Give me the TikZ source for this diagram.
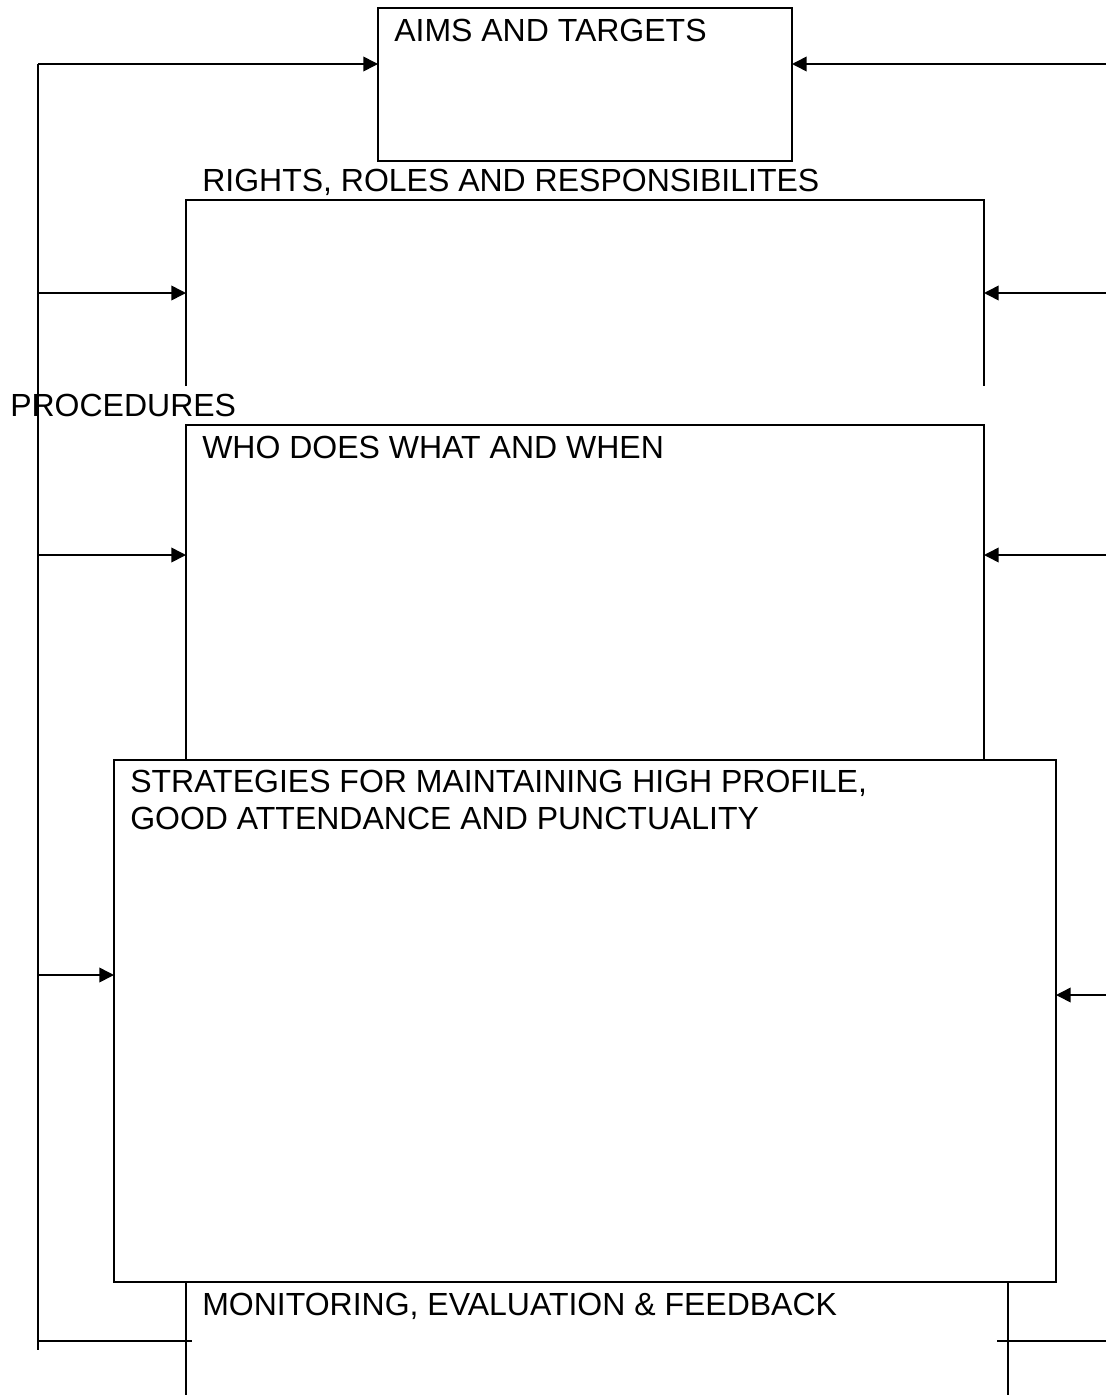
\documentclass[tikz,border=0pt]{standalone}
\usepackage{fontspec}
\setmainfont{Liberation Sans}
\usetikzlibrary{arrows.meta,fit}
\begin{document}
\begin{tikzpicture}[x=0.75pt,y=-0.75pt,
  boxline/.style={line width=1.5pt},
  conn/.style={line width=1.2pt},
  arr/.style={conn,-{Triangle[length=11pt,width=11pt]}},
  frame/.style={inner sep=0pt,outer sep=0pt},
  lbl/.style={inner sep=0pt,anchor=base west,font=\fontsize{24}{28}\selectfont}]
\useasboundingbox (0,0) rectangle (1106,1395);
% boxes
\node[frame,boxline,draw,fit={(378,8) (792,161)}] (aims) {};
\node[frame,fit={(186,200) (984,386)}] (rights) {};
\draw[boxline] (rights.south west) -- (rights.north west) -- (rights.north east) -- (rights.south east);
\node[frame,fit={(186,425) (984,760)}] (who) {};
\draw[boxline] (who.south west) -- (who.north west) -- (who.north east) -- (who.south east);
\node[frame,boxline,draw,fill=white,fit={(114,760) (1056,1282)}] (strat) {};
\node[frame,fit={(186,1282) (1008,1395)}] (mon) {};
\draw[boxline] (mon.north west) -- (mon.south west);
\draw[boxline] (mon.north east) -- (mon.south east);
% labels
\node[lbl] (taims) at (394,42) {AIMS AND TARGETS};
\node[lbl] (trights) at (202,191) {RIGHTS, ROLES AND RESPONSIBILITES};
\node[lbl] (tproc) at (10,416) {PROCEDURES};
\node[lbl] (twho) at (202,458) {WHO DOES WHAT AND WHEN};
\node[lbl] (tstrat1) at (130,792) {STRATEGIES FOR MAINTAINING HIGH PROFILE,};
\node[lbl] (tstrat2) at (130,829) {GOOD ATTENDANCE AND PUNCTUALITY};
\node[lbl] (tmon) at (202,1315) {MONITORING, EVALUATION \& FEEDBACK};
% left feedback line
\coordinate (ltop) at (38,64);
\coordinate (lbot) at (38,1350);
\draw[conn] (ltop) -- (lbot);
\coordinate (l1) at (38,64);
\coordinate (l2) at (38,293);
\coordinate (l3) at (38,555);
\coordinate (l4) at (38,975);
\coordinate (l5) at (38,1341);
\coordinate (l5e) at (192,1341);
\draw[arr] (l1) -- (l1 -| aims.west);
\draw[arr] (l2) -- (l2 -| rights.west);
\draw[arr] (l3) -- (l3 -| who.west);
\draw[arr] (l4) -- (l4 -| strat.west);
\draw[conn] (l5) -- (l5e);
% right side
\coordinate (r1) at (1106,64);
\coordinate (r2) at (1106,293);
\coordinate (r3) at (1106,555);
\coordinate (r4) at (1106,995);
\coordinate (r5) at (1106,1341);
\coordinate (r5e) at (997,1341);
\draw[arr] (r1) -- (r1 -| aims.east);
\draw[arr] (r2) -- (r2 -| rights.east);
\draw[arr] (r3) -- (r3 -| who.east);
\draw[arr] (r4) -- (r4 -| strat.east);
\draw[conn] (r5) -- (r5e);
\end{tikzpicture}
\end{document}
